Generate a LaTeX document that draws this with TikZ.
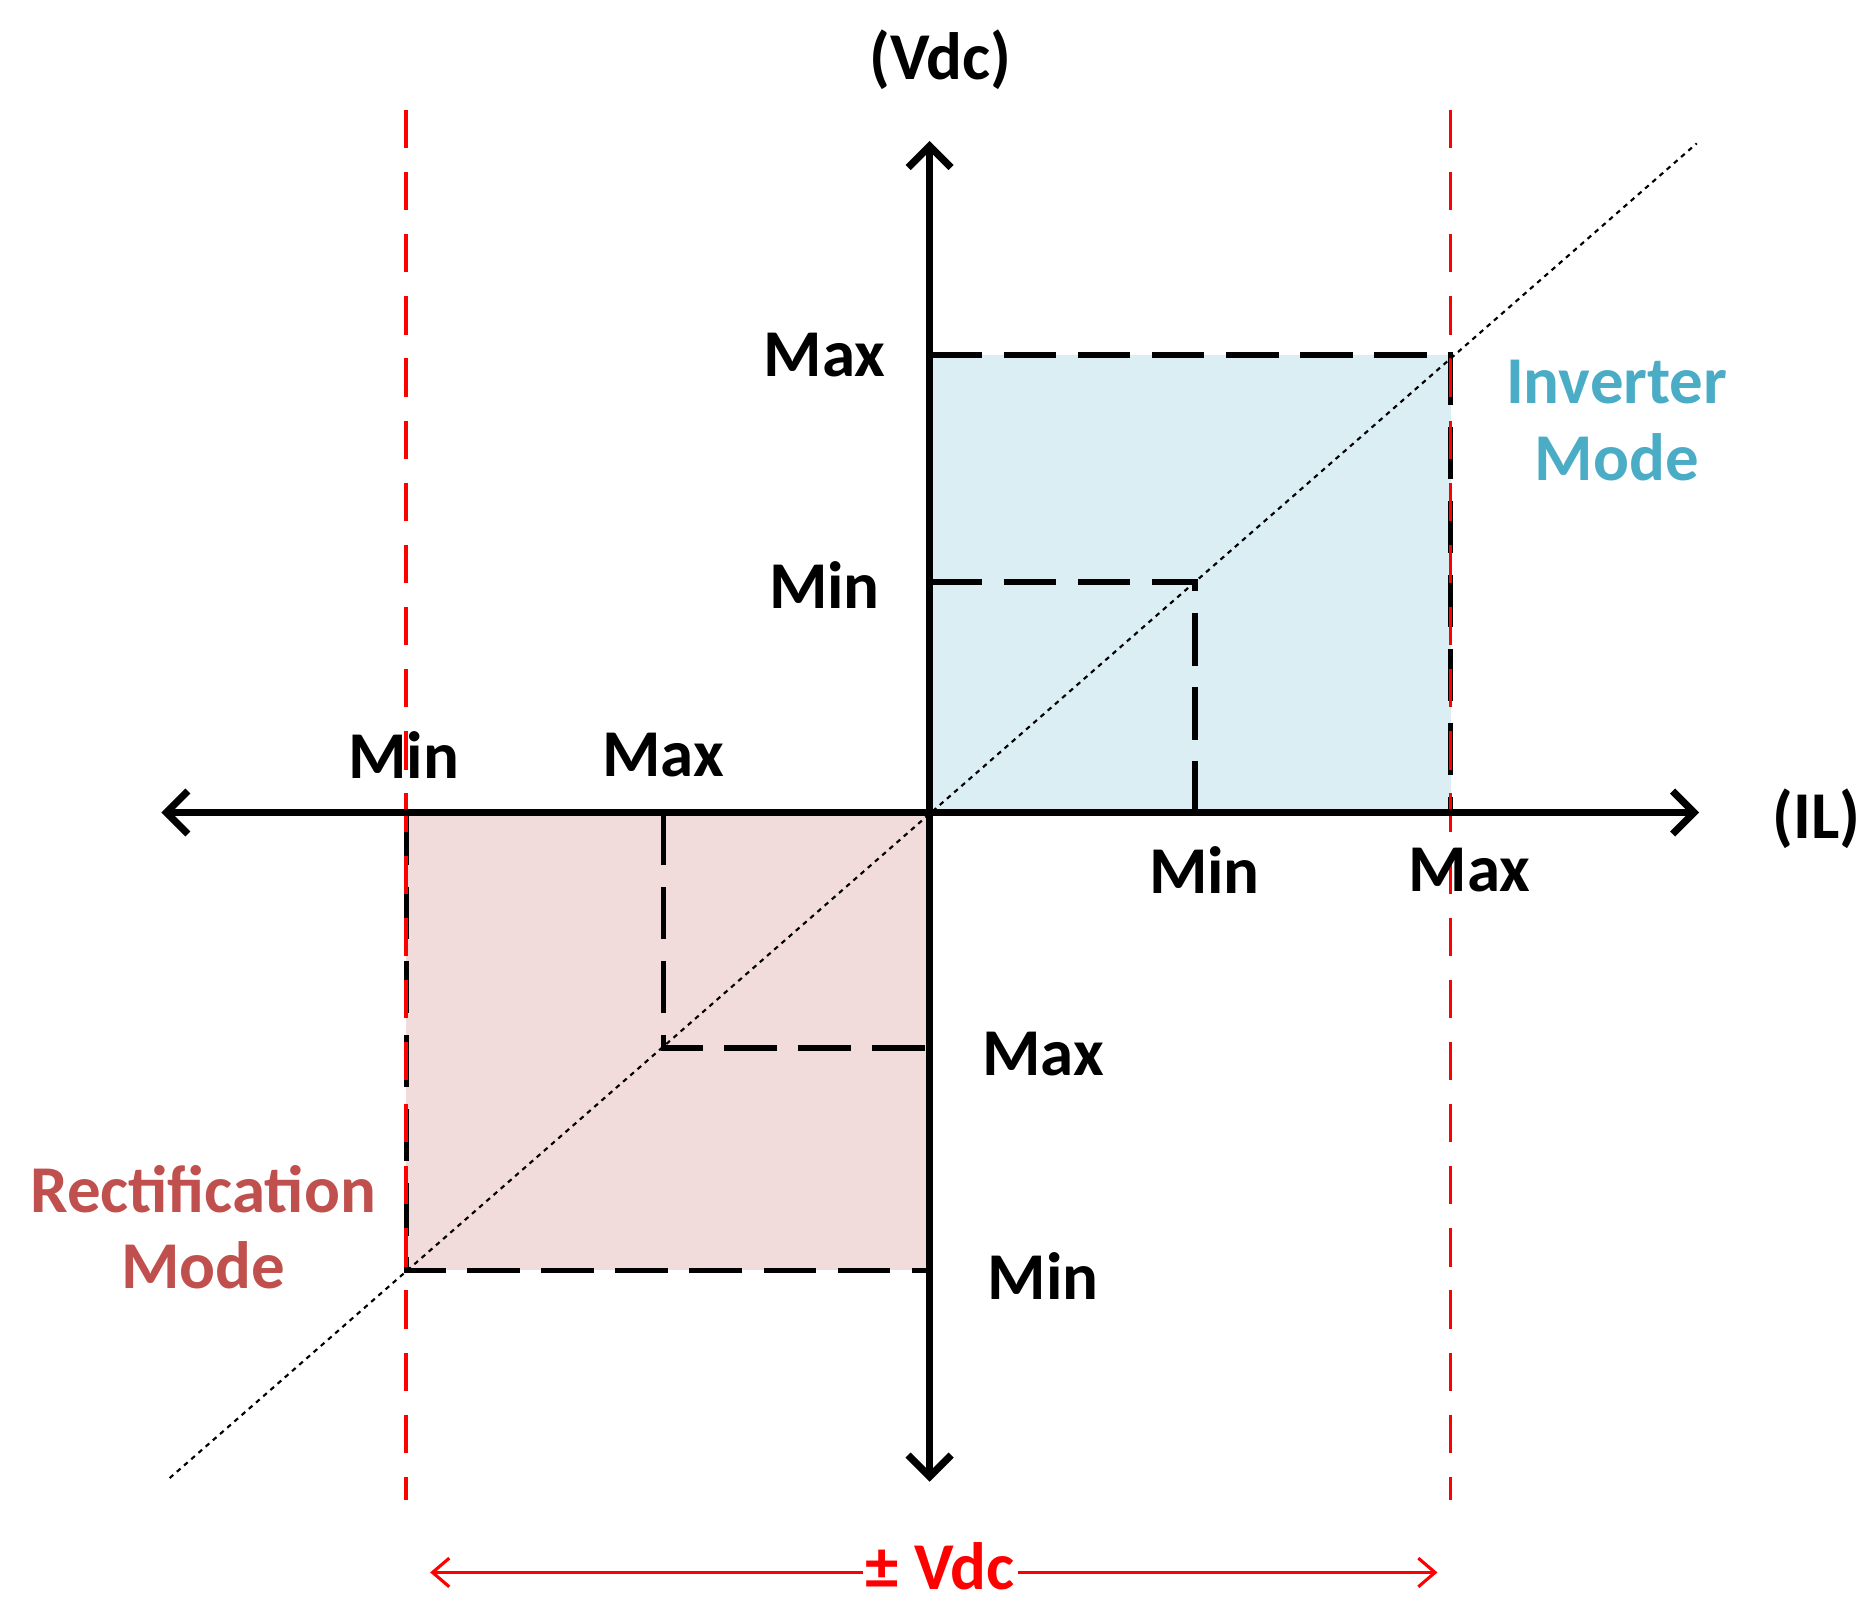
\documentclass[tikz,border=0pt]{standalone}
\usepackage{fontspec}
\setmainfont{Carlito}
\usetikzlibrary{arrows.meta}
\definecolor{bfill}{RGB}{219,238,243}
\definecolor{rfill}{RGB}{242,220,219}
\definecolor{btext}{RGB}{75,172,198}
\definecolor{rtext}{RGB}{192,80,77}
\begin{document}
\begin{tikzpicture}[x=0.5pt,y=-0.5pt,
 lab/.style={font=\fontsize{28}{30}\selectfont\bfseries},
 ax/.style={line width=3pt,{Straight Barb[length=9pt,width=18pt]}-{Straight Barb[length=9pt,width=18pt]}},
 bd/.style={line width=2.2pt,dash pattern=on 22pt off 9pt},
 rd/.style={red,line width=1.6pt,dash pattern=on 16pt off 10pt}]
\useasboundingbox (0,0) rectangle (1560,1344);
\fill[bfill] (778,297) rectangle (1214,680);
\fill[rfill] (340,680) rectangle (778,1063);
\coordinate (O) at (778,680);
\coordinate (R1) at (1214,297);\coordinate (R2) at (1214,680);\coordinate (T) at (778,297);
\coordinate (L1) at (340,680);\coordinate (L2) at (340,1063);\coordinate (B) at (778,1063);
\draw[bd] (T)--(R1)--(R2);
\draw[bd] (L1)--(L2)--(B);
\draw[bd] (778,487) coordinate (a1)--(1000,487) coordinate (a2)--(1000,680) coordinate (a3);
\draw[bd] (555,680) coordinate (b1)--(555,877) coordinate (b2)--(778,877) coordinate (b3);
\draw[rd] (340,92) coordinate (r1)--(340,1255) coordinate (r2);
\draw[rd] (1214,92) coordinate (r3)--(1214,1255) coordinate (r4);
\draw[line width=0.9pt,dash pattern=on 2pt off 2pt] (142,1237) coordinate (d1)--(1420,120) coordinate (d2);
\coordinate (xl) at (135,680);\coordinate (xr) at (1422,680);
\coordinate (yt) at (778,118);\coordinate (yb) at (778,1240);
\draw[ax] (xl)--(xr);
\draw[ax] (yb)--(yt);
\node[lab] (vdc) at (787,50) {(Vdc)};
\node[lab] (il) at (1520,685) {(IL)};
\node[lab] (m1) at (690,297) {Max};
\node[lab] (m2) at (690,490) {Min};
\node[lab] (m3) at (338,632) {Min};
\node[lab] (m4) at (555,632) {Max};
\node[lab] (m5) at (1008,728) {Min};
\node[lab] (m6) at (1230,728) {Max};
\node[lab] (m7) at (873,882) {Max};
\node[lab] (m8) at (873,1068) {Min};
\node[lab,text=btext,align=center] (inv) at (1353,352) {Inverter\\[2pt]Mode};
\node[lab,text=rtext,align=center] (rec) at (170,1027) {Rectification\\[2pt]Mode};
\node[lab,red,fill=white,inner sep=1pt] (pm) at (787,1311) {± Vdc};
\coordinate (aL) at (360,1316);\coordinate (aR) at (1203,1316);
\draw[red,line width=1.3pt,-{Straight Barb[length=7pt,width=12pt]}] (pm.west|-aL)--(aL);
\draw[red,line width=1.3pt,-{Straight Barb[length=7pt,width=12pt]}] (pm.east|-aR)--(aR);
\end{tikzpicture}
\end{document}
